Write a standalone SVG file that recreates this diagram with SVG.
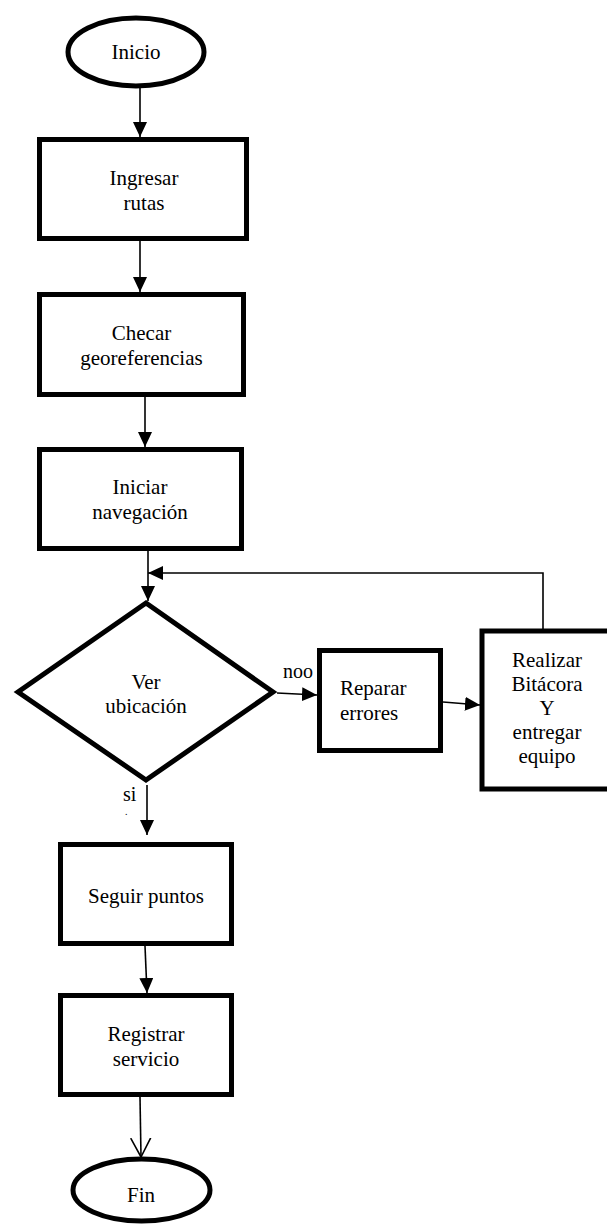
<svg xmlns="http://www.w3.org/2000/svg" width="607" height="1224" viewBox="0 0 607 1224">
<style>
.shape{fill:#fff;stroke:#000;stroke-width:5;stroke-linejoin:miter}
.t{font-size:21px;fill:#000;text-anchor:middle}
.l{font-size:20px;fill:#000}
.c{fill:none;stroke:#000;stroke-width:1.6}
</style>
<defs>
<marker id="ah" viewBox="0 0 15 14" refX="15" refY="7" markerWidth="15" markerHeight="14" markerUnits="userSpaceOnUse" orient="auto">
<path d="M0,0 L15,7 L0,14 z" fill="#000"/>
</marker>
<marker id="oa" viewBox="0 0 20 22" refX="19" refY="11" markerWidth="20" markerHeight="22" markerUnits="userSpaceOnUse" orient="auto">
<path d="M0,1 L19,11 L0,21" fill="none" stroke="#000" stroke-width="1.6"/>
</marker>
</defs>
<rect width="607" height="1224" fill="#fff"/>
<g id="connectors">
<line class="c" x1="140" y1="88" x2="140" y2="137" marker-end="url(#ah)"/>
<line class="c" x1="140" y1="241" x2="140" y2="292" marker-end="url(#ah)"/>
<line class="c" x1="145" y1="397" x2="145" y2="447" marker-end="url(#ah)"/>
<line class="c" x1="148" y1="551" x2="148" y2="601" marker-end="url(#ah)"/>
<polyline class="c" points="543,629 543,573 148,573" marker-end="url(#ah)"/>
<line class="c" x1="277" y1="693" x2="317" y2="695" marker-end="url(#ah)"/>
<line class="c" x1="443" y1="702" x2="480" y2="705" marker-end="url(#ah)"/>
<line class="c" x1="147" y1="785" x2="147" y2="835" marker-end="url(#ah)"/>
<line class="c" x1="145" y1="946" x2="147" y2="993" marker-end="url(#ah)"/>
<line class="c" x1="140" y1="1097" x2="141" y2="1157" marker-end="url(#oa)"/>
</g>
<g font-family="Liberation Serif, Times New Roman, serif">
<g id="inicio">
<ellipse class="shape" cx="136" cy="52" rx="68" ry="34" stroke-width="4"/>
<text class="t" x="136" y="59">Inicio</text>
</g>
<g id="ingresar">
<rect class="shape" x="39.5" y="139.5" width="207" height="99"/>
<text class="t" x="144" y="185">Ingresar</text>
<text class="t" x="144" y="210">rutas</text>
</g>
<g id="checar">
<rect class="shape" x="39.5" y="294.5" width="204" height="100"/>
<text class="t" x="141.5" y="340">Checar</text>
<text class="t" x="141.5" y="365">georeferencias</text>
</g>
<g id="iniciar">
<rect class="shape" x="39.5" y="449.5" width="202" height="99"/>
<text class="t" x="140" y="494">Iniciar</text>
<text class="t" x="140" y="519">navegación</text>
</g>
<g id="ver">
<polygon class="shape" points="146,603 273,692 146,780 18,692"/>
<text class="t" x="146" y="689">Ver</text>
<text class="t" x="146" y="713">ubicación</text>
</g>
<g id="reparar">
<rect class="shape" x="319.5" y="650.5" width="121" height="100"/>
<text class="t" x="340" y="695" text-anchor="start" style="text-anchor:start">Reparar</text>
<text class="t" x="340" y="720" text-anchor="start" style="text-anchor:start">errores</text>
</g>
<g id="realizar">
<rect class="shape" x="482" y="631" width="140" height="158"/>
<text class="t" x="547" y="667">Realizar</text>
<text class="t" x="547" y="691">Bitácora</text>
<text class="t" x="547" y="715">Y</text>
<text class="t" x="547" y="739">entregar</text>
<text class="t" x="547" y="763">equipo</text>
</g>
<g id="seguir">
<rect class="shape" x="60.5" y="844.5" width="171" height="99"/>
<text class="t" x="146" y="903">Seguir puntos</text>
</g>
<g id="registrar">
<rect class="shape" x="60.5" y="995.5" width="171" height="99"/>
<text class="t" x="146" y="1041">Registrar</text>
<text class="t" x="146" y="1066">servicio</text>
</g>
<g id="fin">
<ellipse class="shape" cx="141.5" cy="1190" rx="68.5" ry="31"/>
<text class="t" x="141" y="1202">Fin</text>
</g>
<g id="labels">
<text class="l" x="283" y="678">noo</text>
<text class="l" x="123" y="801">si</text>
<text class="l" x="125" y="815" font-size="10" style="font-size:10px">.</text>
</g>
</g>
</svg>
